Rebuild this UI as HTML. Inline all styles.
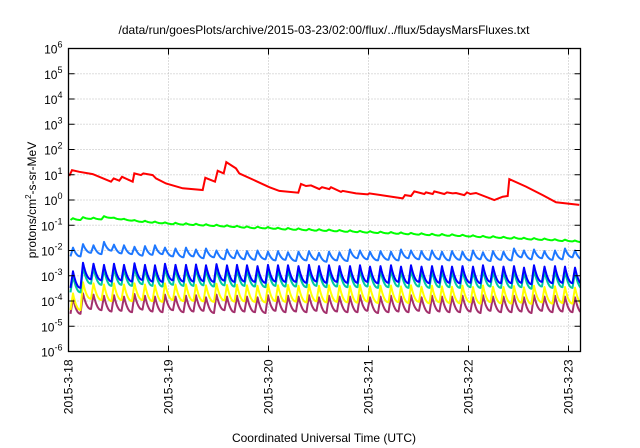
<!DOCTYPE html>
<html><head><meta charset="utf-8"><style>
html,body{margin:0;padding:0;background:#fff;}
svg{display:block;font-family:"Liberation Sans",sans-serif;}
</style></head><body>
<svg id="chart" width="640" height="448" viewBox="0 0 640 448" xmlns="http://www.w3.org/2000/svg">
<rect x="0" y="0" width="640" height="448" fill="#fff"/>
<text x="324" y="34" font-size="12" text-anchor="middle" fill="#000">/data/run/goesPlots/archive/2015-03-23/02:00/flux/../flux/5daysMarsFluxes.txt</text>
<g id="grid"></g><g id="series"></g><g id="axes"></g>
<text x="324" y="442" font-size="12" text-anchor="middle" fill="#000">Coordinated Universal Time (UTC)</text>
<text transform="translate(36,200) rotate(-90)" font-size="12" text-anchor="middle" fill="#000">protons/cm<tspan font-size="8" dy="-5">2</tspan><tspan dy="5">-s-sr-MeV</tspan></text>
</svg>
<script>
const xTickLabels = ["2015-3-18","2015-3-19","2015-3-20","2015-3-21","2015-3-22","2015-3-23"];
const yTickExps = [-6,-5,-4,-3,-2,-1,0,1,2,3,4,5,6];
const redDays = [0.008,0.035,0.108,0.242,0.425,0.452,0.508,0.535,0.642,0.658,0.725,0.748,0.842,0.875,0.975,1.142,1.342,1.368,1.465,1.492,1.552,1.578,1.675,1.708,1.842,2.008,2.108,2.298,2.325,2.375,2.425,2.508,2.535,2.608,2.625,2.725,2.742,2.875,2.992,3.008,3.342,3.365,3.425,3.458,3.558,3.575,3.642,3.658,3.758,3.785,3.842,3.875,3.958,3.985,4.018,4.075,4.258,4.292,4.342,4.392,4.408,4.575,4.742,4.875,5.108];
const redValues = [8.9,15.3,13.1,10.6,5.3,7.2,5.8,8.3,5.3,11.3,9.7,11.3,9.7,7.2,4.5,2.9,2.5,7.6,5.3,14.4,11.3,31.6,17.8,11.3,6.5,3.2,2.3,1.95,4.3,3.6,3.8,2.7,3.2,2.7,3.2,2.1,2.3,1.83,1.67,1.83,1.16,1.57,1.44,2.2,1.73,2.0,1.73,2.2,1.73,2.0,1.83,1.89,1.57,2.0,1.73,1.89,1.0,1.13,1.35,1.44,6.7,3.4,1.57,0.81,0.64];
const toothDays = [0.02,0.12,0.225,0.33,0.43,0.53,0.635,0.74,0.84,0.94,1.045,1.15,1.25,1.35,1.455,1.56,1.66,1.76,1.865,1.97,2.07,2.17,2.275,2.38,2.48,2.58,2.685,2.79,2.89,2.99,3.095,3.2,3.3,3.4,3.505,3.61,3.71,3.81,3.915,4.02,4.12,4.22,4.325,4.43,4.53,4.63,4.735,4.84,4.94,5.04];
const greenPeaks = [1.9,2.1,2.0,2.3,2.0,1.8,1.6,1.5,1.4,1.3,1.25,1.2,1.15,1.1,1.05,1.0,0.95,0.9,0.88,0.85,0.8,0.78,0.75,0.72,0.7,0.68,0.65,0.63,0.6,0.58,0.56,0.54,0.52,0.5,0.48,0.46,0.45,0.44,0.42,0.4,0.38,0.37,0.35,0.34,0.32,0.31,0.3,0.28,0.27,0.25];
const greenScale = 1e-1;
const lightBluePeaks = [1.3,1.8,1.6,2.2,1.7,1.6,1.4,1.5,1.6,1.3,1.2,1.3,1.1,1.2,1.0,1.1,1.0,0.95,1.0,0.9,0.95,0.85,0.9,0.95,0.8,0.9,0.85,1.1,1.0,0.9,0.95,0.9,1.1,1.0,0.95,1.0,0.9,0.95,0.9,1.0,0.85,0.95,0.9,1.2,1.0,1.1,0.95,1.0,1.2,1.0];
const lightBlueScale = 1e-2;
const bluePeaks = [1.5,3.3,3.0,2.7,3.0,2.7,3.1,2.7,2.6,3.0,2.7,2.7,2.8,2.6,2.9,2.6,2.7,2.6,2.4,2.7,2.6,2.6,2.4,2.7,2.4,2.6,2.4,2.4,2.6,2.3,2.4,2.6,2.3,2.6,2.3,2.4,2.4,2.3,2.4,2.3,2.6,2.3,2.3,2.4,2.1,2.6,2.3,2.4,2.3,2.1];
const blueScale = 1e-3;
const tealPeaks = [1.0,2.2,2.0,1.8,2.0,1.8,2.1,1.8,1.7,2.0,1.8,1.8,1.9,1.7,1.9,1.7,1.8,1.7,1.6,1.8,1.7,1.7,1.6,1.8,1.6,1.7,1.6,1.6,1.7,1.5,1.6,1.7,1.5,1.7,1.5,1.6,1.6,1.5,1.6,1.5,1.7,1.5,1.5,1.6,1.4,1.7,1.5,1.6,1.5,1.4];
const tealScale = 1e-3;
const yellowPeaks = [2,5.5,5,4.5,5,4.5,5,4.5,4.2,5,4.5,4.6,4.4,4.2,4.8,4.3,4.4,4.2,4,4.5,4.2,4.3,4,4.4,4,4.2,4,3.9,4.3,3.8,4,4.1,3.8,4.2,3.7,4,3.8,3.7,4,3.6,4.1,3.7,3.6,3.9,3.5,4,3.6,3.8,3.6,3.4];
const yellowScale = 1e-4;
const purplePeaks = [1.3,2.0,1.8,1.6,1.7,1.5,1.9,1.6,1.5,1.8,1.5,1.6,1.7,1.4,1.8,1.5,1.6,1.5,1.4,1.7,1.5,1.6,1.5,1.7,1.4,1.6,1.5,1.5,1.7,1.4,1.5,1.6,1.5,1.7,1.4,1.6,1.5,1.5,1.6,1.4,1.7,1.5,1.5,1.6,1.4,1.7,1.5,1.6,1.5,1.4];
const purpleScale = 1e-4;
const dropFactors = {green:0.85, lightBlue:0.45, blue:0.22, teal:0.22, yellow:0.22, purple:0.24};

const NS="http://www.w3.org/2000/svg";
const L=68.5,R=580.5,T=48.5,B=351.5,dayPx=100;
const xs=d=>L+d*dayPx;
const ys=v=>B-(Math.log10(v)+6)*(B-T)/12;
function mk(tag,attrs,parent){const e=document.createElementNS(NS,tag);for(const k in attrs)e.setAttribute(k,attrs[k]);parent.appendChild(e);return e;}
const grid=document.getElementById('grid'),axes=document.getElementById('axes'),ser=document.getElementById('series');
const svg=document.getElementById('chart');
const defs=mk('defs',{},svg);const cp=mk('clipPath',{id:'clip'},defs);mk('rect',{x:L,y:T,width:R-L,height:B-T},cp);
ser.setAttribute('clip-path','url(#clip)');
yTickExps.forEach(e=>{
  const y=ys(Math.pow(10,e));
  if(e>-6&&e<6){const g=mk('line',{x1:L,x2:R,y1:y,y2:y,stroke:'#bbb','stroke-width':1,'stroke-dasharray':'1,2'},grid);
  
  }
  mk('line',{x1:L,x2:L+6,y1:y,y2:y,stroke:'#000'},axes);
  mk('line',{x1:R,x2:R-6,y1:y,y2:y,stroke:'#000'},axes);
  const t=mk('text',{x:L-6,y:y+5,'font-size':12,'text-anchor':'end',fill:'#000'},axes);
  
  
  t.appendChild(document.createTextNode('10'));
  const s=mk('tspan',{'font-size':9,dy:-6},t);s.textContent=String(e);
});
xTickLabels.forEach((lab,i)=>{
  const x=xs(i);
  if(i>0){const g=mk('line',{x1:x,x2:x,y1:T,y2:B,stroke:'#bbb','stroke-width':1,'stroke-dasharray':'1,2'},grid);
  
  }
  mk('line',{x1:x,x2:x,y1:B,y2:B-6,stroke:'#000'},axes);
  mk('line',{x1:x,x2:x,y1:T,y2:T+6,stroke:'#000'},axes);
  const t=mk('text',{transform:`translate(${x+4},${B+8}) rotate(-90)`,'font-size':12,'text-anchor':'end',fill:'#000'},axes);
  
  
  t.textContent=lab;
});
const frame=mk('rect',{x:L,y:T,width:R-L,height:B-T,fill:'none',stroke:'#000','stroke-width':1.3},axes);



function saw(peaks,scale,drop,color,name){
  let d='';const rise=0.025;
  for(let i=0;i<peaks.length;i++){
    const p=peaks[i]*scale;const t0=toothDays[i];const t1=(i+1<toothDays.length)?toothDays[i+1]:t0+0.1025;
    if(i===0)d+='M'+xs(t0).toFixed(1)+','+ys(p*drop).toFixed(1);
    const tp=t0+rise;
    d+='L'+xs(tp).toFixed(1)+','+ys(p).toFixed(1);
    for(let k=1;k<=8;k++){const f=k/8;const v=p*Math.pow(drop,1-Math.pow(1-f,2.2));d+='L'+xs(tp+(t1-tp)*f).toFixed(1)+','+ys(v).toFixed(1);}
  }
  const e=mk('path',{d:d,fill:'none',stroke:color,'stroke-width':2,'stroke-linejoin':'round'},ser);
  
  
}
saw(purplePeaks,purpleScale,dropFactors.purple,'#a3306c','series-purple');
saw(yellowPeaks,yellowScale,dropFactors.yellow,'#ffff00','series-yellow');
saw(tealPeaks,tealScale,dropFactors.teal,'#00c8a0','series-teal');
saw(bluePeaks,blueScale,dropFactors.blue,'#0000ff','series-blue');
saw(lightBluePeaks,lightBlueScale,dropFactors.lightBlue,'#1e78ff','series-light-blue');
saw(greenPeaks,greenScale,dropFactors.green,'#00ff00','series-green');
let rd='';redDays.forEach((t,i)=>{rd+=(i?'L':'M')+xs(t).toFixed(1)+','+ys(redValues[i]).toFixed(1);});
const red=mk('path',{d:rd,fill:'none',stroke:'#ff0000','stroke-width':2},ser);


</script>
</body></html>
